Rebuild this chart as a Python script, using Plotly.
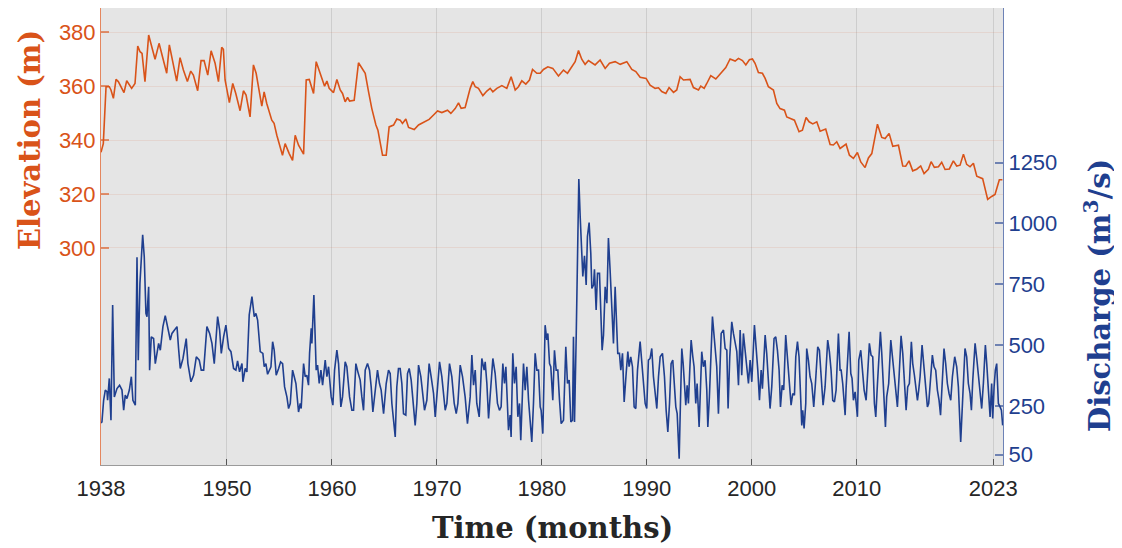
import plotly.graph_objects as go

# ---------------- data ----------------
elev_year = [
    1938.00, 1938.06, 1938.22, 1938.48, 1938.79, 1938.95, 1939.18, 1939.43, 1939.65, 1940.19,
    1940.45, 1940.92, 1941.24, 1941.50, 1941.72, 1941.91, 1942.19, 1942.54, 1942.83, 1943.15,
    1943.53, 1943.88, 1944.26, 1944.51, 1944.83, 1945.21, 1945.53, 1945.85, 1946.23, 1946.55,
    1946.80, 1947.21, 1947.53, 1947.82, 1948.17, 1948.49, 1948.87, 1949.19, 1949.50, 1949.66,
    1949.82, 1950.23, 1950.55, 1950.84, 1951.25, 1951.57, 1951.82, 1952.20, 1952.52, 1952.78,
    1953.32, 1953.54, 1953.79, 1954.27, 1954.49, 1954.75, 1955.29, 1955.54,
    1955.93, 1956.25, 1956.50, 1956.82, 1957.30, 1957.55, 1957.84, 1958.25, 1958.50, 1958.88,
    1959.30, 1959.52, 1959.74, 1960.15, 1960.47, 1960.79, 1961.01, 1961.26, 1961.49, 1961.68,
    1962.12, 1962.53, 1962.79, 1963.17, 1963.49, 1963.80, 1964.19, 1964.38, 1964.82, 1965.17,
    1965.45, 1965.87, 1966.18, 1966.50, 1966.72, 1967.04, 1967.30, 1967.84, 1968.25, 1968.72,
    1969.26, 1969.68, 1970.06, 1970.47, 1971.01, 1971.33, 1971.74, 1972.06, 1972.31, 1972.69,
    1973.17, 1973.42, 1973.65, 1973.96, 1974.38, 1974.76, 1975.07, 1975.33, 1975.71, 1976.19,
    1976.66, 1977.07, 1977.46, 1977.77, 1978.09, 1978.47, 1978.82, 1979.11, 1979.52, 1979.84,
    1980.15, 1980.57, 1981.04, 1981.58, 1982.06, 1982.44, 1982.85, 1983.17, 1983.49, 1983.80,
    1984.12, 1984.44, 1985.07, 1985.55, 1986.03, 1986.44, 1986.98, 1987.46, 1988.09, 1988.57,
    1988.95, 1989.36, 1989.93, 1990.31, 1990.79,
    1991.11, 1991.42, 1991.81, 1992.12, 1992.54, 1992.85, 1993.17, 1993.49, 1993.81, 1994.12,
    1994.44, 1994.92, 1995.14, 1995.46, 1995.71, 1996.09, 1996.57, 1996.98, 1997.52, 1997.93,
    1998.41, 1998.73, 1999.11, 1999.43, 1999.77, 2000.06, 2000.31, 2000.63, 2001.01, 2001.27,
    2001.58, 2002.06, 2002.38, 2002.69, 2003.11, 2003.33, 2003.74, 2004.06, 2004.50, 2004.82,
    2005.17, 2005.46, 2005.81, 2006.19, 2006.51, 2007.04, 2007.46, 2007.77, 2008.09, 2008.41,
    2008.98, 2009.30, 2009.68, 2010.06, 2010.38, 2010.79, 2011.11, 2011.43, 2011.97, 2012.38,
    2012.70, 2013.08, 2013.43, 2013.97, 2014.38, 2014.66, 2014.98, 2015.33, 2015.71, 2016.09,
    2016.41, 2016.82, 2017.08, 2017.39, 2017.78, 2018.09, 2018.41, 2018.82, 2019.20, 2019.52,
    2019.84, 2020.16, 2020.47, 2020.79, 2021.11, 2021.43, 2021.99, 2022.47, 2022.85, 2023.17,
    2023.58, 2023.87,
]
elev_m = [
    335.5, 336.3, 338.7, 359.8, 359.8, 358.6, 355.5, 362.5, 361.7, 357.6,
    362.0, 359.2, 361.0, 374.9, 372.8, 372.2, 361.7, 379.0, 374.7, 370.0,
    375.9, 371.0, 364.8, 375.3, 368.5, 361.9, 370.6, 366.0, 361.7, 365.6,
    364.1, 358.3, 369.5, 369.5, 364.1, 373.1, 368.5, 361.7, 374.4, 373.7,
    362.3, 353.9, 361.0, 357.3, 350.9, 358.3, 356.7, 348.6, 367.9, 364.8,
    352.6, 357.9, 353.6, 347.4, 346.2, 341.8, 334.4, 338.7,
    335.0, 332.5, 341.8, 338.1, 334.8, 362.3, 362.5, 357.3, 369.1, 364.8,
    360.0, 361.9, 359.2, 357.6, 362.5, 358.6, 357.3, 354.2, 355.8, 354.5,
    354.8, 368.7, 367.2, 364.8, 357.9, 351.7, 345.6, 343.7, 334.4, 334.4,
    344.9, 345.6, 347.8, 347.4, 346.2, 347.8, 344.7, 343.9, 345.6, 346.7,
    347.7, 349.3, 350.8, 350.2, 351.1, 349.9, 351.7, 353.8, 351.8, 352.1,
    359.2, 361.7, 359.8, 359.2, 356.5, 358.2, 359.2, 357.9, 359.2, 360.2,
    359.2, 363.5, 358.6, 359.8, 362.0, 360.8, 362.3, 366.2, 364.8, 364.8,
    366.2, 367.2, 366.6, 363.8, 366.0, 364.8, 367.2, 369.1, 373.2, 370.0,
    368.1, 369.5, 367.9, 369.7, 366.6, 368.5, 369.1, 368.1, 369.1, 366.2,
    365.4, 363.3, 362.9, 360.4, 359.2,
    359.4, 358.0, 357.3, 359.5, 357.7, 358.6, 363.5, 362.3, 362.3, 362.5,
    359.5, 358.6, 360.0, 359.2, 361.0, 363.9, 362.7, 364.4, 366.9, 370.1,
    369.3, 370.3, 369.5, 367.9, 369.8, 370.1, 368.5, 365.1, 364.8, 362.9,
    359.8, 358.6, 353.6, 351.7, 351.1, 348.6, 347.8, 347.4, 343.1, 343.7,
    348.4, 346.8, 346.0, 346.8, 343.3, 344.1, 338.4, 338.2, 339.4, 336.9,
    338.5, 334.4, 333.2, 335.4, 331.9, 329.8, 333.4, 335.0, 345.9, 341.0,
    340.6, 342.5, 337.7, 338.1, 330.4, 330.3, 332.3, 328.6, 329.2, 330.4,
    327.6, 329.2, 332.0, 329.9, 330.1, 331.8, 329.1, 329.3, 332.3, 330.4,
    330.7, 334.8, 331.0, 330.1, 331.4, 326.6, 325.7, 318.0, 319.1, 319.8,
    325.3, 325.3,
]

q_year = [
    1938.00, 1938.09, 1938.25, 1938.41, 1938.57, 1938.63, 1938.79, 1938.95, 1939.11, 1939.27,
    1939.52, 1939.77, 1940.00, 1940.16, 1940.31, 1940.47, 1940.70, 1940.89, 1941.04, 1941.27,
    1941.43, 1941.55, 1941.71, 1941.97, 1942.12, 1942.28, 1942.38, 1942.54, 1942.63, 1942.79,
    1943.01, 1943.17, 1943.49, 1943.65, 1943.90, 1944.12, 1944.44, 1944.60, 1944.76, 1945.24,
    1945.39, 1945.55, 1945.81, 1946.12, 1946.28, 1946.57, 1946.82, 1947.08, 1947.36, 1947.55,
    1947.78, 1948.09, 1948.35, 1948.57, 1948.79, 1949.11, 1949.30, 1949.46, 1949.68, 1949.90,
    1950.16, 1950.38, 1950.63, 1950.85, 1951.01, 1951.20, 1951.43, 1951.52, 1951.74, 1951.90,
    1952.12, 1952.38, 1952.60, 1952.76, 1952.92, 1953.17, 1953.42, 1953.55, 1953.71, 1953.87,
    1954.19, 1954.35, 1954.50, 1954.69, 1954.92, 1955.11, 1955.30, 1955.49,
    1955.71, 1955.87, 1956.03, 1956.25, 1956.41, 1956.57, 1956.82, 1956.98, 1957.07, 1957.30,
    1957.45, 1957.61, 1957.77, 1957.87, 1958.03, 1958.09, 1958.28, 1958.41, 1958.50, 1958.63,
    1958.79, 1958.95, 1959.11, 1959.36, 1959.52, 1959.68, 1959.93, 1960.09, 1960.25, 1960.47,
    1960.63, 1960.85, 1961.01, 1961.26, 1961.42, 1961.68, 1961.90, 1962.06, 1962.28, 1962.47,
    1962.69, 1962.85, 1963.01, 1963.17, 1963.39, 1963.58, 1963.74, 1963.90, 1964.12, 1964.34,
    1964.53, 1964.69, 1964.92, 1965.17, 1965.39, 1965.55, 1965.71, 1965.87, 1966.03, 1966.18,
    1966.34, 1966.50, 1966.66, 1966.82, 1967.04, 1967.20, 1967.36, 1967.55, 1967.77, 1967.93,
    1968.09, 1968.25, 1968.47, 1968.63, 1968.82, 1969.04, 1969.26, 1969.45, 1969.68, 1969.84,
    1970.06, 1970.25, 1970.47, 1970.63, 1970.79, 1970.95, 1971.20, 1971.42, 1971.65, 1971.84,
    1972.00, 1972.22, 1972.44, 1972.69, 1972.91,
    1973.17, 1973.33, 1973.49, 1973.65, 1973.80, 1974.03, 1974.28, 1974.50, 1974.60, 1974.76,
    1974.92, 1975.14, 1975.33, 1975.55, 1975.77, 1975.96, 1976.12, 1976.28, 1976.44, 1976.57,
    1976.73, 1976.82, 1976.98, 1977.07, 1977.23, 1977.39, 1977.55, 1977.71, 1977.87, 1977.99,
    1978.15, 1978.25, 1978.41, 1978.57, 1978.73, 1978.88, 1979.04, 1979.20, 1979.36, 1979.52,
    1979.68, 1979.84, 1979.93, 1980.09, 1980.22, 1980.31, 1980.47, 1980.57, 1980.73, 1980.85,
    1981.04, 1981.20, 1981.36, 1981.52, 1981.68, 1981.84, 1982.06, 1982.28, 1982.44, 1982.60,
    1982.76, 1982.92, 1983.01, 1983.11, 1983.27, 1983.39, 1983.52, 1983.65, 1983.80, 1983.90,
    1984.06, 1984.22, 1984.34, 1984.50, 1984.66, 1984.76, 1984.92, 1985.01, 1985.17, 1985.30,
    1985.49, 1985.61, 1985.74, 1985.87, 1986.03, 1986.19, 1986.34, 1986.50, 1986.66, 1986.82,
    1986.98, 1987.14, 1987.23, 1987.39, 1987.52, 1987.68, 1987.84, 1988.03, 1988.19, 1988.31,
    1988.47, 1988.63, 1988.79, 1988.95, 1989.11, 1989.36, 1989.52, 1989.68, 1989.84, 1989.99,
    1990.15, 1990.31, 1990.47, 1990.63, 1990.79,
    1990.95, 1991.11, 1991.27, 1991.49, 1991.68, 1991.84, 1992.00, 1992.16, 1992.31, 1992.47,
    1992.63, 1992.76, 1992.89, 1993.08, 1993.20, 1993.33, 1993.46, 1993.58, 1993.71, 1993.84,
    1993.96, 1994.09, 1994.22, 1994.38, 1994.50, 1994.66, 1994.79, 1994.98, 1995.11, 1995.23,
    1995.39, 1995.55, 1995.71, 1995.81, 1995.96, 1996.12, 1996.25, 1996.44, 1996.66, 1996.82,
    1996.98, 1997.08, 1997.30, 1997.46, 1997.62, 1997.74, 1997.90, 1998.09, 1998.25, 1998.41,
    1998.57, 1998.73, 1998.89, 1999.04, 1999.20, 1999.36, 1999.52, 1999.68, 1999.84, 2000.00,
    2000.25, 2000.41, 2000.57, 2000.73, 2000.89, 2001.01, 2001.27, 2001.42, 2001.58, 2001.74,
    2001.90, 2002.12, 2002.28, 2002.44, 2002.60, 2002.73, 2002.89, 2003.04, 2003.23, 2003.42,
    2003.58, 2003.74, 2003.90, 2004.06, 2004.19, 2004.35, 2004.50, 2004.63, 2004.76, 2004.85,
    2004.98, 2005.14, 2005.23, 2005.39, 2005.55, 2005.71, 2005.90, 2006.06, 2006.28, 2006.44,
    2006.60, 2006.79, 2006.98, 2007.23, 2007.39, 2007.55, 2007.71, 2007.87, 2008.03, 2008.25,
    2008.41, 2008.51, 2008.66, 2008.79, 2008.89, 2008.98, 2009.11, 2009.27, 2009.43, 2009.55,
    2009.68, 2009.84, 2010.06, 2010.19, 2010.38, 2010.54, 2010.70, 2010.89, 2011.05, 2011.20,
    2011.36, 2011.52, 2011.68, 2011.81, 2011.97, 2012.12, 2012.25, 2012.38, 2012.54, 2012.73,
    2012.85, 2013.04, 2013.24, 2013.39, 2013.55, 2013.71, 2013.87, 2014.03, 2014.22, 2014.38,
    2014.54, 2014.70, 2014.85, 2015.01, 2015.20, 2015.33, 2015.49, 2015.65, 2015.78, 2015.90,
    2016.03, 2016.22, 2016.35, 2016.51, 2016.73, 2016.85, 2017.04, 2017.20, 2017.36, 2017.52,
    2017.68, 2017.84, 2017.98, 2018.16, 2018.31, 2018.47, 2018.63, 2018.79, 2018.95, 2019.11,
    2019.33, 2019.52, 2019.68, 2019.90, 2020.09, 2020.31, 2020.47, 2020.63, 2020.79, 2020.92,
    2021.05, 2021.27, 2021.43, 2021.58, 2021.74, 2021.90, 2022.06, 2022.25, 2022.38, 2022.54,
    2022.70, 2022.85, 2022.95, 2023.08, 2023.20, 2023.33, 2023.49, 2023.65, 2023.78, 2023.90,
]
q_cms = [
    180, 184, 273, 315, 308, 273, 363, 191, 665, 287,
    321, 335, 315, 232, 294, 280, 315, 370, 273, 253,
    861, 438, 754, 953, 864, 630, 617, 740, 397, 534,
    527, 424, 507, 479, 576, 621, 555, 521, 548, 576,
    486, 404, 445, 527, 424, 349, 376, 452, 438, 397,
    397, 576, 548, 507, 424, 617, 562, 466, 534, 582,
    486, 473, 404, 397, 435, 390, 424, 349, 404, 390,
    624, 699, 617, 630, 603, 473, 466, 411, 424, 380,
    411, 514, 479, 376, 404, 431, 424, 328,
    287, 239, 260, 397, 370, 342, 225, 260, 239, 424,
    370, 376, 335, 466, 569, 507, 706, 548, 397, 418,
    342, 397, 335, 438, 370, 411, 287, 253, 397, 479,
    424, 246, 287, 431, 411, 287, 232, 232, 424, 390,
    356, 287, 232, 397, 424, 397, 328, 225, 301, 397,
    342, 315, 218, 342, 397, 383, 260, 198, 122, 328,
    404, 404, 342, 218, 212, 383, 404, 356, 260, 170,
    260, 418, 370, 315, 232, 273, 424, 370, 301, 205,
    315, 431, 370, 287, 232, 260, 424, 370, 260, 218,
    260, 418, 370, 287, 177,
    287, 459, 335, 397, 260, 205, 445, 397, 431, 342,
    198, 328, 445, 383, 260, 232, 246, 424, 342, 411,
    232, 150, 212, 122, 466, 342, 411, 205, 260, 109,
    301, 424, 315, 411, 273, 177, 102, 260, 466, 397,
    397, 246, 232, 136, 507, 582, 521, 548, 424, 411,
    273, 479, 397, 397, 273, 177, 191, 493, 342, 356,
    184, 191, 534, 184, 534, 809, 1183, 1029, 891, 782,
    867, 747, 946, 1004, 878, 733, 747, 812, 644, 795,
    795, 672, 479, 541, 740, 672, 940, 809, 658, 507,
    740, 576, 466, 466, 397, 466, 266, 383, 473, 411,
    452, 411, 246, 239, 397, 514, 424, 315, 260, 239,
    438, 445, 486, 370, 287,
    239, 370, 452, 466, 370, 232, 143, 260, 424, 438,
    328, 246, 218, 33, 260, 486, 424, 328, 253, 335,
    260, 397, 521, 452, 411, 260, 342, 163, 328, 473,
    411, 438, 315, 163, 287, 438, 617, 521, 411, 218,
    397, 548, 562, 486, 479, 239, 452, 596, 548, 507,
    473, 335, 562, 376, 548, 479, 418, 342, 438, 349,
    582, 493, 397, 273, 397, 321, 541, 466, 370, 239,
    328, 527, 534, 479, 397, 246, 335, 315, 541, 438,
    356, 253, 301, 294, 452, 514, 452, 328, 170, 232,
    157, 260, 486, 438, 370, 342, 246, 342, 493, 479,
    370, 253, 328, 521, 473, 397, 273, 266, 315, 548,
    397, 397, 342, 246, 212, 321, 452, 555, 383, 363,
    273, 308, 205, 438, 479, 397, 315, 273, 411, 507,
    459, 452, 260, 205, 342, 452, 555, 466, 342, 163,
    287, 342, 521, 452, 397, 328, 246, 370, 538, 466,
    370, 232, 328, 342, 514, 424, 376, 328, 273, 315,
    370, 500, 438, 356, 246, 260, 383, 459, 411, 397,
    315, 273, 212, 397, 486, 424, 342, 301, 273, 370,
    452, 411, 328, 102, 273, 486, 452, 342, 301, 232,
    356, 507, 445, 370, 315, 239, 342, 500, 424, 315,
    205, 342, 198, 328, 397, 424, 260, 246, 232, 170,
]

x_ticks = [1938, 1950, 1960, 1970, 1980, 1990, 2000, 2010, 2023]
elev_ticks = [300, 320, 340, 360, 380]
q_ticks = [50, 250, 500, 750, 1000, 1250]

ORANGE = "#D95319"
BLUE = "#1F3F8F"
DARK = "#262626"

fig = go.Figure()
fig.add_trace(go.Scatter(x=elev_year, y=elev_m, mode="lines",
                         line=dict(color=ORANGE, width=1.6), yaxis="y", showlegend=False))
fig.add_trace(go.Scatter(x=q_year, y=q_cms, mode="lines",
                         line=dict(color=BLUE, width=1.6), yaxis="y2", showlegend=False))

fig.update_layout(
    width=1114, height=540,
    margin=dict(l=93, r=119, t=0, b=83),
    paper_bgcolor="white",
    plot_bgcolor="#E5E5E5",
    font=dict(family="Liberation Sans, Arial, sans-serif", size=22, color=DARK),
    xaxis=dict(
        range=[1938, 2023.93], tickvals=x_ticks, ticktext=[str(t) for t in x_ticks],
        showgrid=True, gridcolor="rgba(0,0,0,0.10)", gridwidth=1,
        zeroline=False, showline=True, linecolor="#9a9a9a", linewidth=1, mirror=True,
        ticks="inside", ticklen=6, tickcolor="#555555", tickwidth=1,
        ticklabelstandoff=4,
        tickfont=dict(size=22, color=DARK),
    ),
    yaxis=dict(
        range=[219.5, 389.0], tickvals=elev_ticks,
        showgrid=True, gridcolor="rgba(217,83,25,0.10)", gridwidth=1,
        zeroline=False, showline=True, linecolor="rgba(217,83,25,0.7)", linewidth=1,
        ticks="inside", ticklen=8, tickcolor="rgba(217,83,25,0.6)", tickwidth=1.5,
        tickfont=dict(size=22, color=ORANGE),
    ),
    yaxis2=dict(
        range=[7, 1886], tickvals=q_ticks, overlaying="y", side="right",
        showgrid=False, zeroline=False, showline=True,
        linecolor="rgba(31,63,143,0.65)", linewidth=1,
        ticks="inside", ticklen=8, tickcolor="rgba(31,63,143,0.6)", tickwidth=1.5,
        tickfont=dict(size=22, color=BLUE),
    ),
    annotations=[
        dict(text="Elevation (m)", xref="paper", yref="paper", x=-0.0787, y=0.711,
             textangle=-90, showarrow=False, xanchor="center", yanchor="middle",
             font=dict(family="DejaVu Serif", size=29, color=ORANGE, weight="bold")),
        dict(text="Discharge (m<sup>3</sup>/s)", xref="paper", yref="paper", x=1.1053, y=0.372,
             textangle=-90, showarrow=False, xanchor="center", yanchor="middle",
             font=dict(family="DejaVu Serif", size=29, color=BLUE, weight="bold")),
        dict(text="Time (months)", xref="paper", yref="paper", x=0.5, y=-0.138,
             showarrow=False, xanchor="center", yanchor="middle",
             font=dict(family="DejaVu Serif", size=29, color=DARK, weight="bold")),
    ],
)

fig.write_html("out.html")
